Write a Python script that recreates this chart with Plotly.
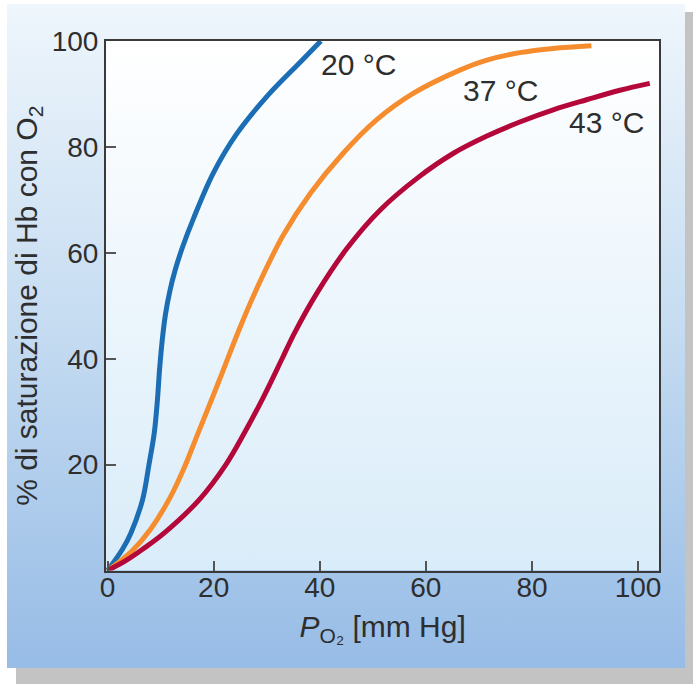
import plotly.graph_objects as go

# ---- data ----
po2_20 = [0, 2.8, 4.4, 6.6, 7.8, 8.8, 9.4, 9.8, 10.3, 10.9, 11.7, 12.7, 14.1, 16.2, 19.9, 24.3, 30.0, 36.3, 40.2]
sat_20 = [0, 4.0, 7.1, 13.4, 20.0, 26.0, 32.3, 38.0, 43.5, 48.3, 52.6, 56.6, 61.0, 66.5, 75.0, 82.4, 89.5, 96.0, 100]

po2_37 = [0, 4.5, 8.1, 11.9, 14.4, 17.0, 19.5, 21.2, 25.0, 28.7, 33.1, 38.2, 44.4, 50.7, 57.6, 66.4, 71.5, 77.7, 84.0, 91.2]
sat_37 = [0, 3.6, 7.8, 14.0, 19.3, 25.8, 32.0, 36.3, 46.0, 54.5, 63.3, 71.2, 78.8, 85.1, 90.1, 94.5, 96.4, 97.8, 98.6, 99.1]

po2_43 = [0, 3.5, 6.6, 10.7, 17.3, 22.3, 25.8, 29.5, 32.8, 35.2, 39.4, 45.1, 51.3, 58.5, 65.2, 71.4, 77.7, 84.0, 90.3, 96.6, 102.2]
sat_43 = [0, 1.9, 4.0, 7.1, 13.4, 20.0, 26.0, 33.0, 39.8, 44.8, 52.3, 60.8, 68.0, 74.2, 78.8, 82.0, 84.7, 87.0, 88.9, 90.7, 92.0]

series_names = ["20 °C", "37 °C", "43 °C"]
series_colors = ["#1b6db4", "#f58d2e", "#b4083a"]
label_pos = [(47.3, 95.6), (74.1, 90.6), (94.1, 84.7)]

x_ticks = [0, 20, 40, 60, 80, 100]
y_ticks = [20, 40, 60, 80, 100]

W, H = 693, 684
FONT = "Liberation Sans, Arial, Helvetica, sans-serif"
TXT = "#2e2e2e"

fig = go.Figure()

def rect(x0, y0, x1, y1):
    return [x0, x1, x1, x0, x0], [y0, y0, y1, y1, y0]

# ---- background (pixel-space subplot covering the whole page) ----
sx, sy = rect(16, 0, 693, 672)
fig.add_trace(go.Scatter(x=sx, y=sy, mode="lines", line=dict(width=0), fill="toself",
                         fillcolor="#c3c3c3", hoverinfo="skip", showlegend=False,
                         xaxis="x", yaxis="y"))
px_, py_ = rect(7, 16, 685, 680)
fig.add_trace(go.Scatter(x=px_, y=py_, mode="lines", line=dict(width=0), fill="toself",
                         fillgradient=dict(type="vertical",
                                           colorscale=[[0, "#97bce6"], [0.5, "#c4dbf1"], [1, "#eff6fc"]]),
                         hoverinfo="skip", showlegend=False, xaxis="x", yaxis="y"))

# ---- plot area gradient ----
XR = [-0.3, 104]
YR = [0, 100]
gx, gy = rect(XR[0], YR[0], XR[1], YR[1])
fig.add_trace(go.Scatter(x=gx, y=gy, mode="lines", line=dict(width=0), fill="toself",
                         fillgradient=dict(type="vertical",
                                           colorscale=[[0, "#d9ecf9"], [1, "#ffffff"]]),
                         hoverinfo="skip", showlegend=False, xaxis="x2", yaxis="y2"))

# ---- curves ----
for xs, ys, name, col in zip([po2_20, po2_37, po2_43], [sat_20, sat_37, sat_43],
                             series_names, series_colors):
    fig.add_trace(go.Scatter(x=xs, y=ys, mode="lines", name=name,
                             line=dict(color=col, width=5, shape="spline", smoothing=1.0),
                             showlegend=False, xaxis="x2", yaxis="y2"))

for name, (lx, ly) in zip(series_names, label_pos):
    fig.add_annotation(x=lx, y=ly, xref="x2", yref="y2", text=name, showarrow=False,
                       font=dict(family=FONT, size=30, color=TXT))

axis_common = dict(showline=True, linecolor="#3a3a3a", linewidth=2, mirror=True,
                   ticks="inside", ticklen=10, tickwidth=1.5, tickcolor="#555555",
                   showgrid=False, zeroline=False,
                   tickfont=dict(family=FONT, size=28, color=TXT))

fig.update_layout(
    width=W, height=H,
    margin=dict(l=0, r=0, t=0, b=0, autoexpand=False),
    paper_bgcolor="#ffffff",
    plot_bgcolor="rgba(0,0,0,0)",
    showlegend=False,
    xaxis=dict(domain=[0, 1], range=[0, W], visible=False, fixedrange=True),
    yaxis=dict(domain=[0, 1], range=[0, H], visible=False, fixedrange=True),
    xaxis2=dict(domain=[106 / W, 659.3 / W], range=XR, anchor="y2",
                tickvals=x_ticks, ticktext=[str(v) for v in x_ticks],
                ticklabelstandoff=-9,
                title=dict(text="<i>P</i><sub>O₂</sub> [mm Hg]",
                           font=dict(family=FONT, size=30, color=TXT), standoff=14),
                **axis_common),
    yaxis2=dict(domain=[1 - 570.5 / H, 1 - 41 / H], range=YR, anchor="x2",
                tickvals=y_ticks, ticktext=[str(v) for v in y_ticks],
                title=dict(text="% di saturazione di Hb con O<sub>2</sub>",
                           font=dict(family=FONT, size=30, color=TXT), standoff=5),
                **axis_common),
)

fig.write_html("out.html")
